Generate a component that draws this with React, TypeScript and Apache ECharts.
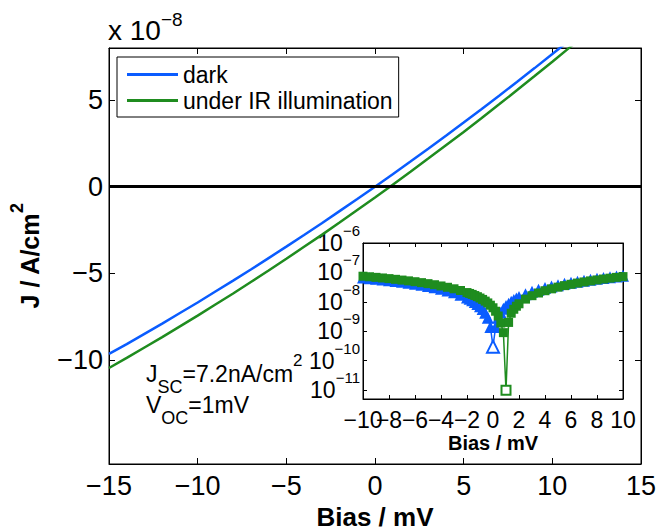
import { useEffect, useRef } from 'react';
import * as echarts from 'echarts';

// Main plot: bias (mV) and current density (x 10^-8 A/cm^2)
const mainBias = [-15, -14, -13, -12, -11, -10, -9, -8, -7, -6, -5, -4, -3, -2, -1, 0, 1, 2, 3, 4, 5, 6, 7, 8, 9, 10, 11, 12];
const darkJ = [-9.65, -9.08, -8.49, -7.9, -7.29, -6.68, -6.05, -5.42, -4.78, -4.12, -3.46, -2.79, -2.11, -1.41, -0.71, 0, 0.72, 1.45, 2.19, 2.94, 3.7, 4.47, 5.25, 6.04, 6.84, 7.65, 8.47, 9.3];
const irJ = [-10.46, -9.88, -9.28, -8.68, -8.06, -7.44, -6.8, -6.16, -5.5, -4.84, -4.16, -3.47, -2.78, -2.07, -1.35, -0.63, 0.11, 0.86, 1.62, 2.39, 3.16, 3.95, 4.75, 5.56, 6.38, 7.21, 8.05, 8.9];

// Inset: |J| (x 10^-8 A/cm^2) on a log axis
const insetBias = [-10, -9.5, -9, -8.5, -8, -7.5, -7, -6.5, -6, -5.5, -5, -4.5, -4, -3.5, -3, -2.5, -2,
  -1.8, -1.6, -1.4, -1.2, -1, -0.8, -0.6, -0.4, -0.2, 0, 0.2, 0.4, 0.6, 0.8, 1, 1.2, 1.4, 1.6, 1.8, 2,
  2.5, 3, 3.5, 4, 4.5, 5, 5.5, 6, 6.5, 7, 7.5, 8, 8.5, 9, 9.5, 10];
const darkAbs = [6.68, 6.37, 6.05, 5.74, 5.42, 5.1, 4.78, 4.45, 4.12, 3.79, 3.46, 3.13, 2.79, 2.45, 2.11, 1.76, 1.41,
  1.27, 1.13, 0.99, 0.85, 0.71, 0.57, 0.43, 0.29, 0.14, 0.03, 0.14, 0.29, 0.43, 0.58, 0.72, 0.87, 1.01, 1.16, 1.3, 1.45,
  1.82, 2.19, 2.57, 2.94, 3.32, 3.7, 4.09, 4.47, 4.86, 5.25, 5.65, 6.04, 6.44, 6.84, 7.25, 7.65];
const irAbs = [7.44, 7.12, 6.8, 6.48, 6.16, 5.83, 5.5, 5.17, 4.84, 4.5, 4.16, 3.82, 3.47, 3.13, 2.78, 2.43, 2.07,
  1.93, 1.79, 1.64, 1.5, 1.35, 1.21, 1.06, 0.92, 0.77, 0.63, 0.48, 0.33, 0.19, 0.09, 0.001, 0.2, 0.41, 0.56, 0.71, 0.86,
  1.24, 1.62, 2.0, 2.39, 2.77, 3.16, 3.56, 3.95, 4.35, 4.75, 5.16, 5.56, 5.97, 6.38, 6.79, 7.21];
const J_SCALE = 1e-8;

const mainYTicks = [-10, -5, 0, 5];
const insetXMin = -10;
const insetXMax = 10;
const seriesNames = ['dark', 'under IR illumination'];

const FONT = '"Liberation Sans", Arial, Helvetica, sans-serif';
const BLUE = '#0a5cff';
const GREEN = '#1f8c1f';

const minus = (v: number) => String(v).replace('-', '\u2212');

function insetData(arr: number[], emptySymbol: string) {
  const mi = arr.indexOf(Math.min(...arr));
  return insetBias.map((x, i) =>
    i === mi ? { value: [x, arr[i] * J_SCALE], symbol: emptySymbol } : [x, arr[i] * J_SCALE]
  );
}

export default function App() {
  const ref = useRef<HTMLDivElement>(null);
  useEffect(() => {
    document.body.style.margin = '0';
    const chart = echarts.init(ref.current!, null, { renderer: 'svg' });
    const axisLine = { show: true, onZero: false, lineStyle: { color: '#000', width: 1 } };
    const logFmt = (v: number) => {
      const l = Math.log10(v);
      const e = Math.round(l);
      if (Math.abs(l - e) > 1e-6) return '';
      return `{b|10}{s|${e < 0 ? '\u2212' : ''}${Math.abs(e)}}`;
    };
    const logRich = {
      b: { fontSize: 23, lineHeight: 40, verticalAlign: 'middle', color: '#000', fontFamily: FONT },
      s: { fontSize: 15, lineHeight: 16, verticalAlign: 'top', color: '#000', fontFamily: FONT },
    };
    const insetLabel = { fontSize: 23, color: '#000', margin: 9, formatter: minus };
    const option: any = {
      animation: false,
      backgroundColor: '#fff',
      textStyle: { fontFamily: FONT, color: '#000' },
      grid: [
        { left: 109, top: 48, width: 532, height: 416, show: true, borderColor: '#000', borderWidth: 1, backgroundColor: 'transparent', outerBoundsMode: 'none' },
        { left: 363, top: 243, width: 260, height: 156, show: true, borderColor: '#000', borderWidth: 1, backgroundColor: '#fff', outerBoundsMode: 'none' },
      ],
      legend: {
        orient: 'vertical',
        left: 117,
        top: 57,
        padding: [6, 6, 5, 10],
        borderColor: '#000',
        borderWidth: 1,
        backgroundColor: '#fff',
        itemWidth: 51,
        itemHeight: 3,
        itemGap: 3,
        textStyle: { fontSize: 23, color: '#000', fontFamily: FONT },
        data: seriesNames.map((n) => ({ name: n, icon: 'rect' })),
      },
      xAxis: [
        {
          gridIndex: 0, type: 'value', min: -15, max: 15, interval: 5, position: 'bottom',
          axisLine, splitLine: { show: false },
          axisTick: { inside: true, length: 6, lineStyle: { color: '#000' } },
          axisLabel: { fontSize: 27, color: '#000', margin: 8, formatter: minus },
          name: 'Bias / mV', nameLocation: 'middle', nameGap: 40,
          nameTextStyle: { fontSize: 26, fontWeight: 'bold', color: '#000' },
        },
        {
          gridIndex: 0, type: 'value', min: -15, max: 15, interval: 5, position: 'top',
          axisLine, splitLine: { show: false },
          axisTick: { inside: true, length: 6, lineStyle: { color: '#000' } },
          axisLabel: { show: false },
        },
        {
          gridIndex: 1, type: 'value', min: insetXMin, max: insetXMax, interval: 2, position: 'bottom',
          axisLine, splitLine: { show: false },
          axisTick: { inside: true, length: 4, lineStyle: { color: '#000' } },
          axisLabel: { ...insetLabel, interval: 0, showMinLabel: false, showMaxLabel: true },
          name: 'Bias / mV', nameLocation: 'middle', nameGap: 34,
          nameTextStyle: { fontSize: 20, fontWeight: 'bold', color: '#000' },
        },
        {
          gridIndex: 1, type: 'value', min: insetXMin, max: insetXMax, interval: 2, position: 'top',
          axisLine, splitLine: { show: false },
          axisTick: { inside: true, length: 4, lineStyle: { color: '#000' } },
          axisLabel: { show: false },
        },
        {
          // carries only the leftmost inset label, which overlaps its neighbour as in the original
          gridIndex: 1, type: 'value', min: insetXMin, max: insetXMax, position: 'bottom',
          axisLine: { show: false, onZero: false }, axisTick: { show: false }, splitLine: { show: false },
          axisLabel: { ...insetLabel, customValues: [insetXMin] },
        },
      ],
      yAxis: [
        {
          gridIndex: 0, type: 'value', min: -16, max: 8, position: 'left',
          axisLine, splitLine: { show: false },
          axisTick: { inside: true, length: 6, customValues: mainYTicks, lineStyle: { color: '#000' } },
          axisLabel: { fontSize: 27, color: '#000', margin: 6, customValues: mainYTicks, formatter: minus },
        },
        {
          gridIndex: 0, type: 'value', min: -16, max: 8, position: 'right',
          axisLine, splitLine: { show: false },
          axisTick: { inside: true, length: 6, customValues: mainYTicks, lineStyle: { color: '#000' } },
          axisLabel: { show: false },
        },
        {
          gridIndex: 1, type: 'log', logBase: 10, min: 5e-12, max: 1e-6, position: 'left',
          axisLine, splitLine: { show: false },
          axisTick: { inside: true, length: 4, lineStyle: { color: '#000' } },
          axisLabel: { margin: 3, formatter: logFmt, rich: logRich, showMinLabel: true, showMaxLabel: true },
        },
        {
          gridIndex: 1, type: 'log', logBase: 10, min: 5e-12, max: 1e-6, position: 'right',
          axisLine, splitLine: { show: false },
          axisTick: { inside: true, length: 4, lineStyle: { color: '#000' } },
          axisLabel: { show: false },
        },
      ],
      series: [
        {
          name: seriesNames[0], type: 'line', xAxisIndex: 0, yAxisIndex: 0,
          data: mainBias.map((x, i) => [x, darkJ[i]]),
          symbol: 'none', lineStyle: { color: BLUE, width: 2.5 }, itemStyle: { color: BLUE },
        },
        {
          name: seriesNames[1], type: 'line', xAxisIndex: 0, yAxisIndex: 0,
          data: mainBias.map((x, i) => [x, irJ[i]]),
          symbol: 'none', lineStyle: { color: GREEN, width: 2.5 }, itemStyle: { color: GREEN },
          markLine: {
            silent: true, symbol: ['none', 'none'], label: { show: false },
            lineStyle: { color: '#000', width: 3, type: 'solid' },
            data: [{ yAxis: 0 }],
          },
        },
        {
          name: 'dark |J|', type: 'line', xAxisIndex: 2, yAxisIndex: 2,
          data: insetData(darkAbs, 'emptyTriangle'),
          symbol: 'triangle', symbolSize: 12, showAllSymbol: true,
          lineStyle: { color: BLUE, width: 1.5 }, itemStyle: { color: BLUE },
        },
        {
          name: 'IR |J|', type: 'line', xAxisIndex: 2, yAxisIndex: 2,
          data: insetData(irAbs, 'emptyRect'),
          symbol: 'rect', symbolSize: 9, showAllSymbol: true,
          lineStyle: { color: GREEN, width: 1.5 }, itemStyle: { color: GREEN },
        },
      ],
      graphic: [
        {
          type: 'text', left: 108, top: 10, z: 10,
          style: {
            text: '{n|x 10}{s|\u22128}',
            rich: {
              n: { fontSize: 28, lineHeight: 40, verticalAlign: 'middle', fill: '#000', fontFamily: FONT },
              s: { fontSize: 19, lineHeight: 18, verticalAlign: 'top', fill: '#000', fontFamily: FONT },
            },
          },
        },
        {
          type: 'text', x: 30, y: 256, rotation: Math.PI / 2, z: 10,
          style: {
            text: '{n|J / A/cm}{s|2}', textAlign: 'center', textVerticalAlign: 'middle',
            rich: {
              n: { fontSize: 25, lineHeight: 44, verticalAlign: 'middle', fontWeight: 'bold', fill: '#000', fontFamily: FONT },
              s: { fontSize: 18, lineHeight: 22, verticalAlign: 'top', fontWeight: 'bold', fill: '#000', fontFamily: FONT },
            },
          },
        },
        {
          type: 'text', x: 146, y: 374, z: 10,
          style: {
            text: '{n|J}{sub|SC}{n|=7.2nA/cm}{sup|2}', textAlign: 'left', textVerticalAlign: 'middle',
            rich: {
              n: { fontSize: 23, lineHeight: 44, verticalAlign: 'middle', fill: '#000', fontFamily: FONT },
              sub: { fontSize: 18, lineHeight: 20, verticalAlign: 'bottom', fill: '#000', fontFamily: FONT },
              sup: { fontSize: 17, lineHeight: 22, verticalAlign: 'top', fill: '#000', fontFamily: FONT },
            },
          },
        },
        {
          type: 'text', x: 146, y: 405, z: 10,
          style: {
            text: '{n|V}{sub|OC}{n|=1mV}', textAlign: 'left', textVerticalAlign: 'middle',
            rich: {
              n: { fontSize: 23, lineHeight: 44, verticalAlign: 'middle', fill: '#000', fontFamily: FONT },
              sub: { fontSize: 18, lineHeight: 20, verticalAlign: 'bottom', fill: '#000', fontFamily: FONT },
            },
          },
        },
      ],
    };
    chart.setOption(option);
    return () => chart.dispose();
  }, []);
  return <div ref={ref} style={{ width: 659, height: 531 }} />;
}
